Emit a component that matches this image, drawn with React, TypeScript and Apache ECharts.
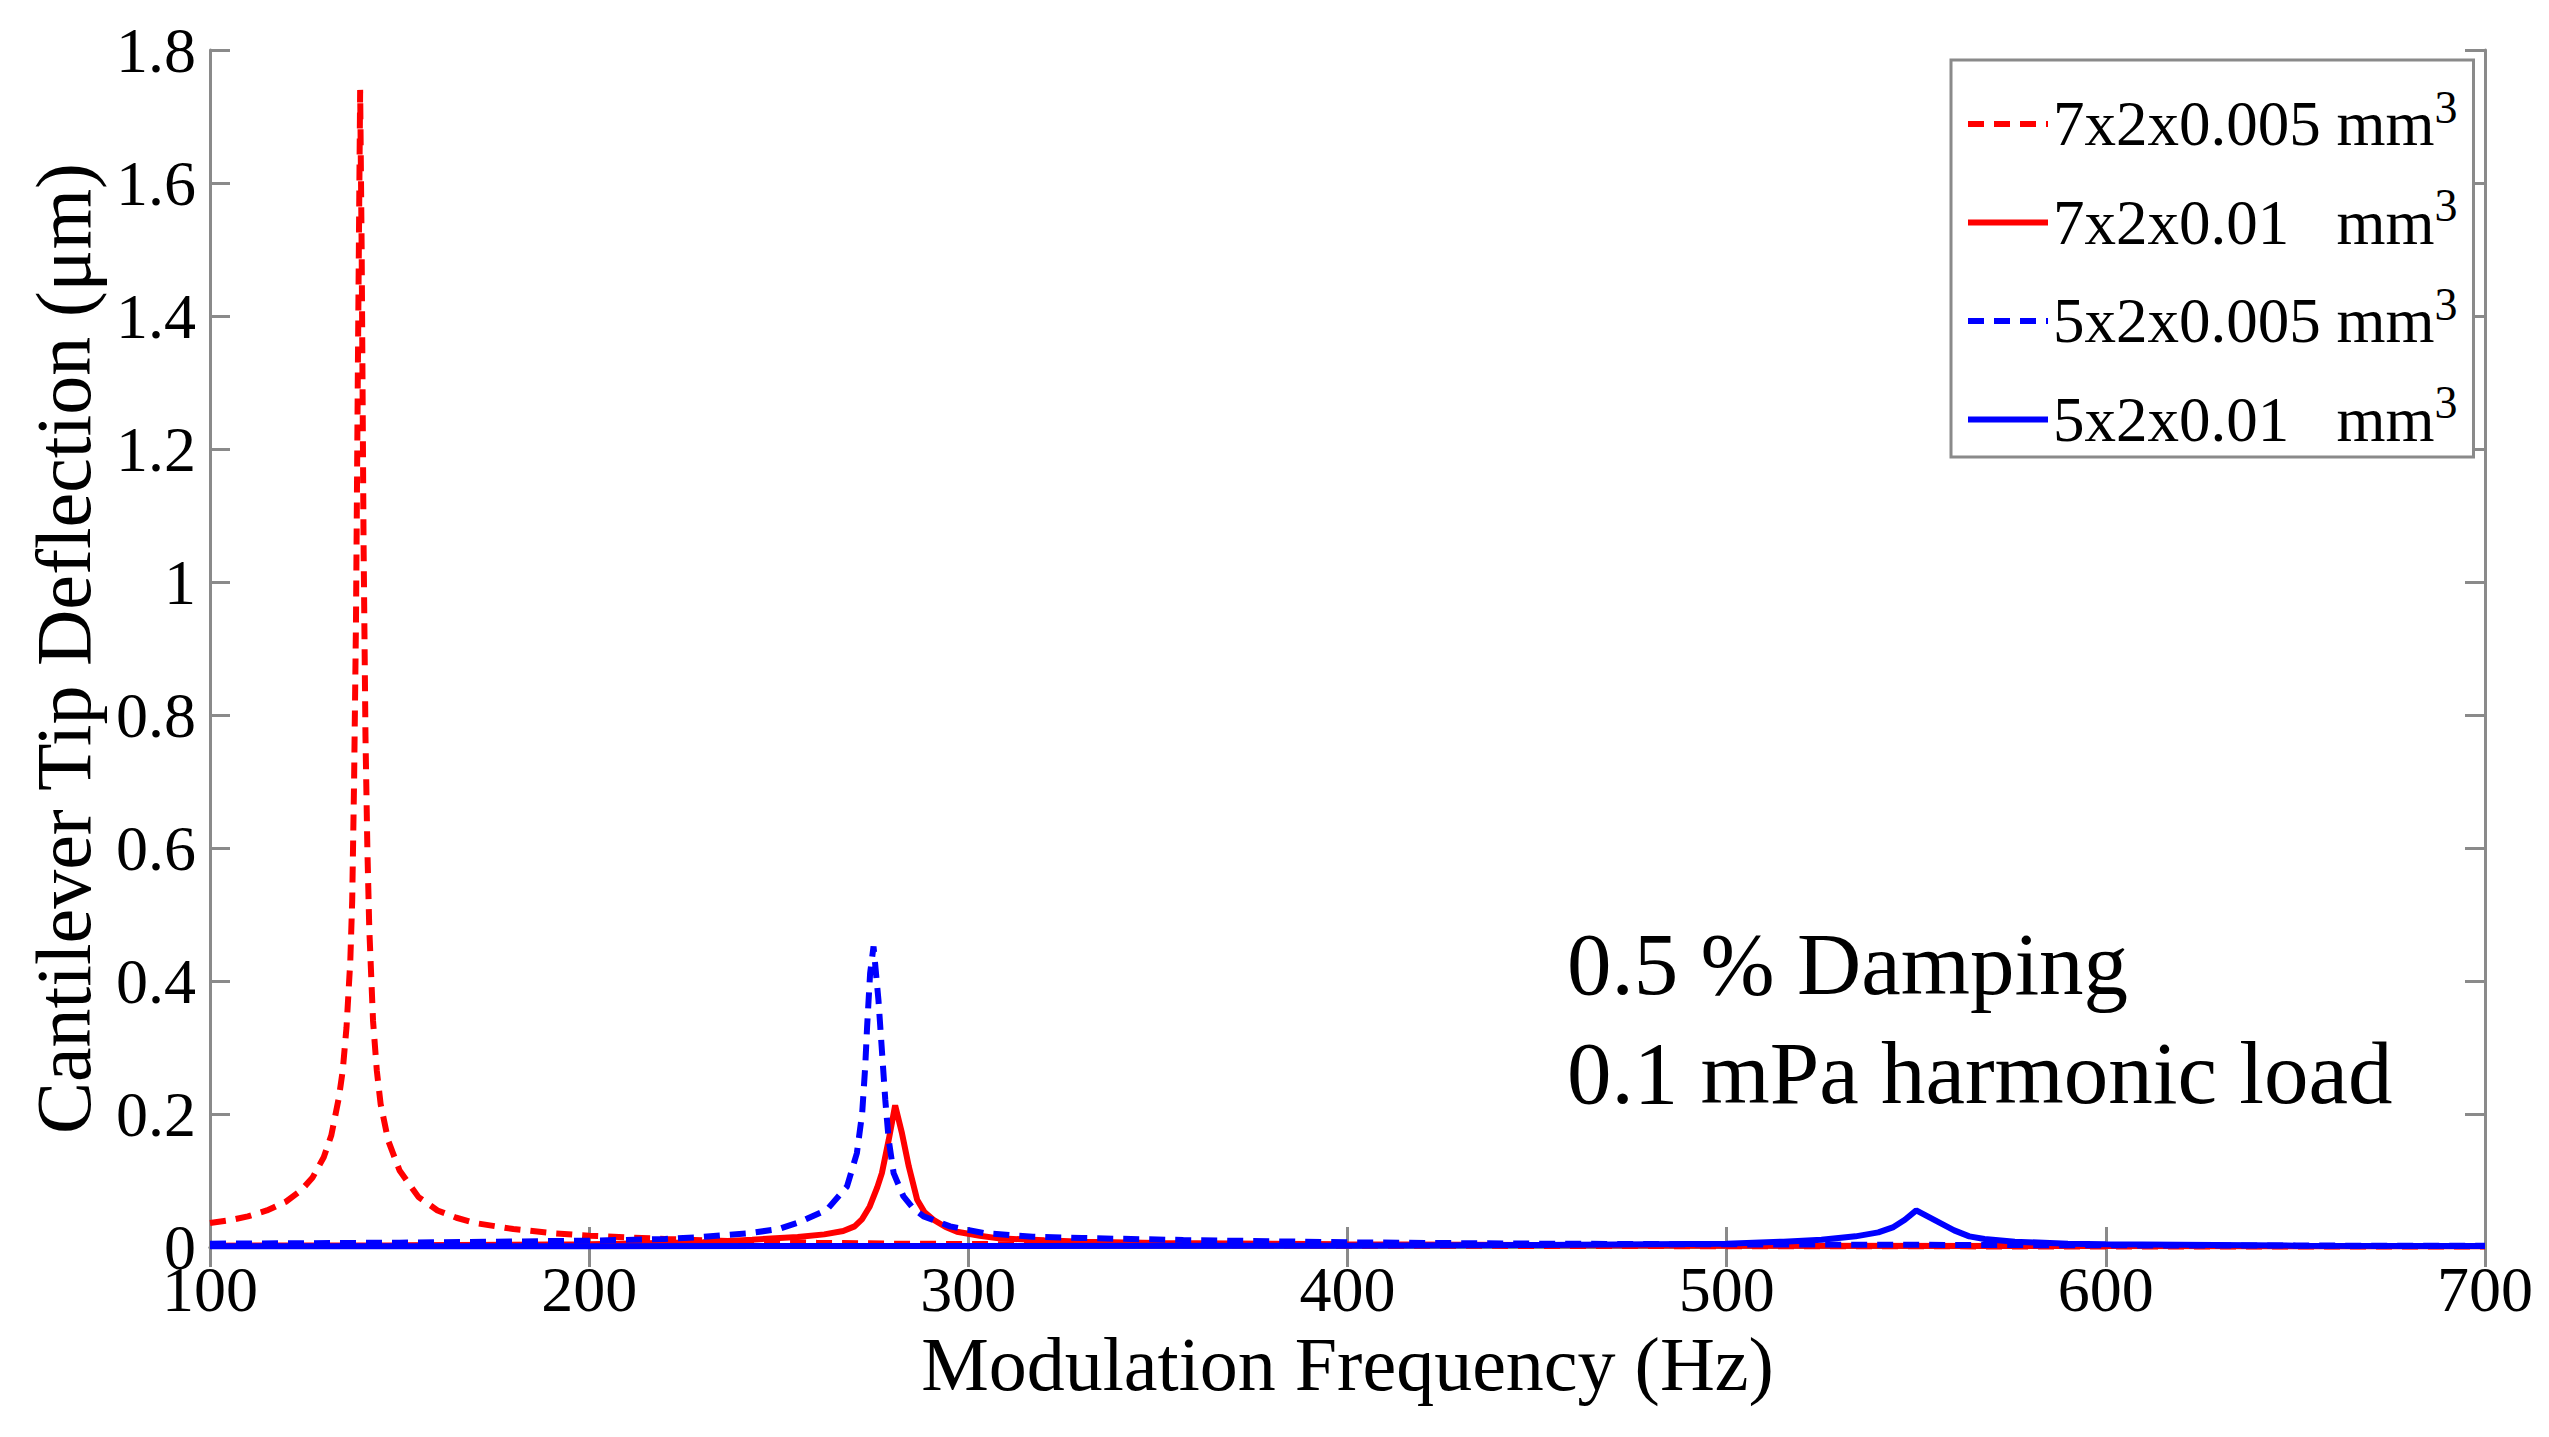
import React, { useEffect, useRef } from "react";
import * as echarts from "echarts";

// Frequency (Hz), tip deflection (µm)
const red7x2x0005: [number, number][] = [
  [100, 0.036], [105, 0.04], [110, 0.046], [115, 0.055], [120, 0.068], [124, 0.085],
  [127, 0.104], [130, 0.135], [132, 0.168], [134, 0.225], [135, 0.265], [136, 0.33],
  [137, 0.43], [137.5, 0.52], [138, 0.7], [138.5, 0.94], [139, 1.32], [139.6, 1.74],
  [140, 1.5], [140.5, 1.06], [141, 0.77], [141.5, 0.6], [142, 0.48], [143, 0.34],
  [144, 0.265], [145, 0.215], [147, 0.16], [150, 0.115], [155, 0.075], [160, 0.055],
  [165, 0.044], [170, 0.036], [180, 0.027], [190, 0.021], [200, 0.017], [220, 0.012],
  [240, 0.0085], [260, 0.0065], [280, 0.005], [300, 0.0045], [350, 0.003], [400, 0.002],
  [500, 0.0012], [600, 0.0008], [700, 0.0006],
];

const red7x2x001: [number, number][] = [
  [100, 0.002], [150, 0.0025], [200, 0.004], [230, 0.007], [243, 0.011], [255, 0.015],
  [262, 0.019], [267, 0.024], [270, 0.031], [272, 0.042], [274, 0.061], [276, 0.09],
  [277.2, 0.111], [279, 0.161], [280.7, 0.213], [282.5, 0.171], [284.3, 0.121],
  [286.5, 0.071], [288.5, 0.052], [290.8, 0.041], [294, 0.03], [297, 0.023], [303, 0.017],
  [308, 0.013], [320, 0.01], [330, 0.008], [350, 0.006], [400, 0.004], [500, 0.002],
  [600, 0.0015], [700, 0.001],
];

const blue5x2x0005: [number, number][] = [
  [100, 0.005], [150, 0.0065], [200, 0.0095], [220, 0.012], [229, 0.0148], [242.5, 0.021],
  [250, 0.027], [255.7, 0.038], [262.7, 0.056], [268, 0.091], [270.6, 0.141], [272, 0.201],
  [272.8, 0.271], [273.3, 0.331], [274.1, 0.412], [275, 0.452], [276.3, 0.371],
  [277.2, 0.296], [278.1, 0.221], [279, 0.161], [280.3, 0.111], [282.9, 0.076],
  [285.5, 0.058], [288.2, 0.046], [295.2, 0.031], [304, 0.021], [317, 0.0155],
  [330, 0.0135], [356.7, 0.0105], [400, 0.007], [450, 0.005], [500, 0.004], [600, 0.0025],
  [700, 0.0018],
];

const blue5x2x001: [number, number][] = [
  [100, 0.001], [200, 0.0012], [300, 0.0015], [400, 0.002], [450, 0.003], [500, 0.005],
  [515, 0.008], [525, 0.011], [534, 0.016], [540, 0.022], [544, 0.03], [547, 0.041],
  [550, 0.055], [555, 0.04], [560, 0.025], [564, 0.016], [568, 0.012], [576, 0.008],
  [590, 0.005], [600, 0.004], [650, 0.002], [700, 0.0015],
];

const seriesNames = [
  "7x2x0.005 mm³",
  "7x2x0.01   mm³",
  "5x2x0.005 mm³",
  "5x2x0.01   mm³",
];

const xTicks = { min: 100, max: 700, interval: 100 };
const yTicks = { min: 0, max: 1.8, interval: 0.2 };

const annotationLines = ["0.5 % Damping", "0.1 mPa harmonic load"];

const FONT = "'Liberation Serif', 'Times New Roman', serif";
const AXIS_GREY = "#8a8a8a";

export default function App() {
  const ref = useRef<HTMLDivElement>(null);

  useEffect(() => {
    if (!ref.current) return;
    const chart = echarts.init(ref.current, undefined, { renderer: "svg" });

    const axisCommon = {
      axisLine: { show: true, lineStyle: { color: AXIS_GREY, width: 3 } },
      axisTick: { show: true, inside: true, length: 20, lineStyle: { color: AXIS_GREY, width: 3 } },
      splitLine: { show: false },
    };

    const mkLine = (name: string, data: [number, number][], color: string, dashed: boolean) => ({
      name,
      type: "line",
      data,
      xAxisIndex: 0,
      yAxisIndex: 0,
      symbol: "none",
      smooth: false,
      lineStyle: { color, width: 6, type: dashed ? [16, 10] : "solid" },
      itemStyle: { color },
      emphasis: { disabled: true },
    });

    chart.setOption({
      animation: false,
      backgroundColor: "#ffffff",
      textStyle: { fontFamily: FONT },
      grid: { left: 210, right: 64, top: 50, bottom: 190, containLabel: false },
      xAxis: [
        {
          type: "value",
          position: "bottom",
          ...xTicks,
          name: "Modulation Frequency (Hz)",
          nameLocation: "middle",
          nameGap: 69,
          nameTextStyle: { fontFamily: FONT, fontSize: 76, color: "#000" },
          axisLabel: { fontFamily: FONT, fontSize: 64, lineHeight: 40, color: "#000", margin: 22 },
          ...axisCommon,
        },
        {
          type: "value",
          position: "top",
          ...xTicks,
          axisLabel: { show: false },
          ...axisCommon,
        },
      ],
      yAxis: [
        {
          type: "value",
          position: "left",
          ...yTicks,
          name: "Cantilever Tip Deflection (μm)",
          nameLocation: "middle",
          nameGap: 108,
          nameTextStyle: { fontFamily: FONT, fontSize: 78, color: "#000" },
          axisLabel: { fontFamily: FONT, fontSize: 64, lineHeight: 40, color: "#000", margin: 14 },
          ...axisCommon,
        },
        {
          type: "value",
          position: "right",
          ...yTicks,
          axisLabel: { show: false },
          ...axisCommon,
        },
      ],
      legend: {
        show: true,
        orient: "vertical",
        left: 1951,
        top: 60,
        padding: [24, 16, 6, 14],
        itemGap: 27,
        itemWidth: 80,
        itemHeight: 20,
        backgroundColor: "#ffffff",
        borderColor: AXIS_GREY,
        borderWidth: 3,
        borderRadius: 0,
        itemStyle: { opacity: 0 },
        lineStyle: { width: 6 },
        data: seriesNames,
        formatter: (name: string) => `{n|${name.replace("³", "")}}{s|3}`,
        textStyle: {
          fontFamily: FONT,
          color: "#000",
          rich: {
            n: { fontFamily: FONT, fontSize: 63, lineHeight: 80, color: "#000" },
            s: { fontFamily: FONT, fontSize: 46, lineHeight: 34, verticalAlign: "top", color: "#000" },
          },
        },
      },
      graphic: annotationLines.map((t, i) => ({
        type: "text",
        left: 1567,
        top: 963 + i * 109 - 44,
        style: {
          text: t,
          font: `89px ${FONT}`,
          fill: "#000",
        },
        silent: true,
      })),
      series: [
        mkLine(seriesNames[0], red7x2x0005, "#ff0000", true),
        mkLine(seriesNames[1], red7x2x001, "#ff0000", false),
        mkLine(seriesNames[2], blue5x2x0005, "#0000ff", true),
        mkLine(seriesNames[3], blue5x2x001, "#0000ff", false),
      ],
    });

    return () => {
      chart.dispose();
    };
  }, []);

  return (
    <div
      ref={ref}
      style={{ position: "absolute", left: 0, top: 0, width: 2549, height: 1437, background: "#fff" }}
    />
  );
}
